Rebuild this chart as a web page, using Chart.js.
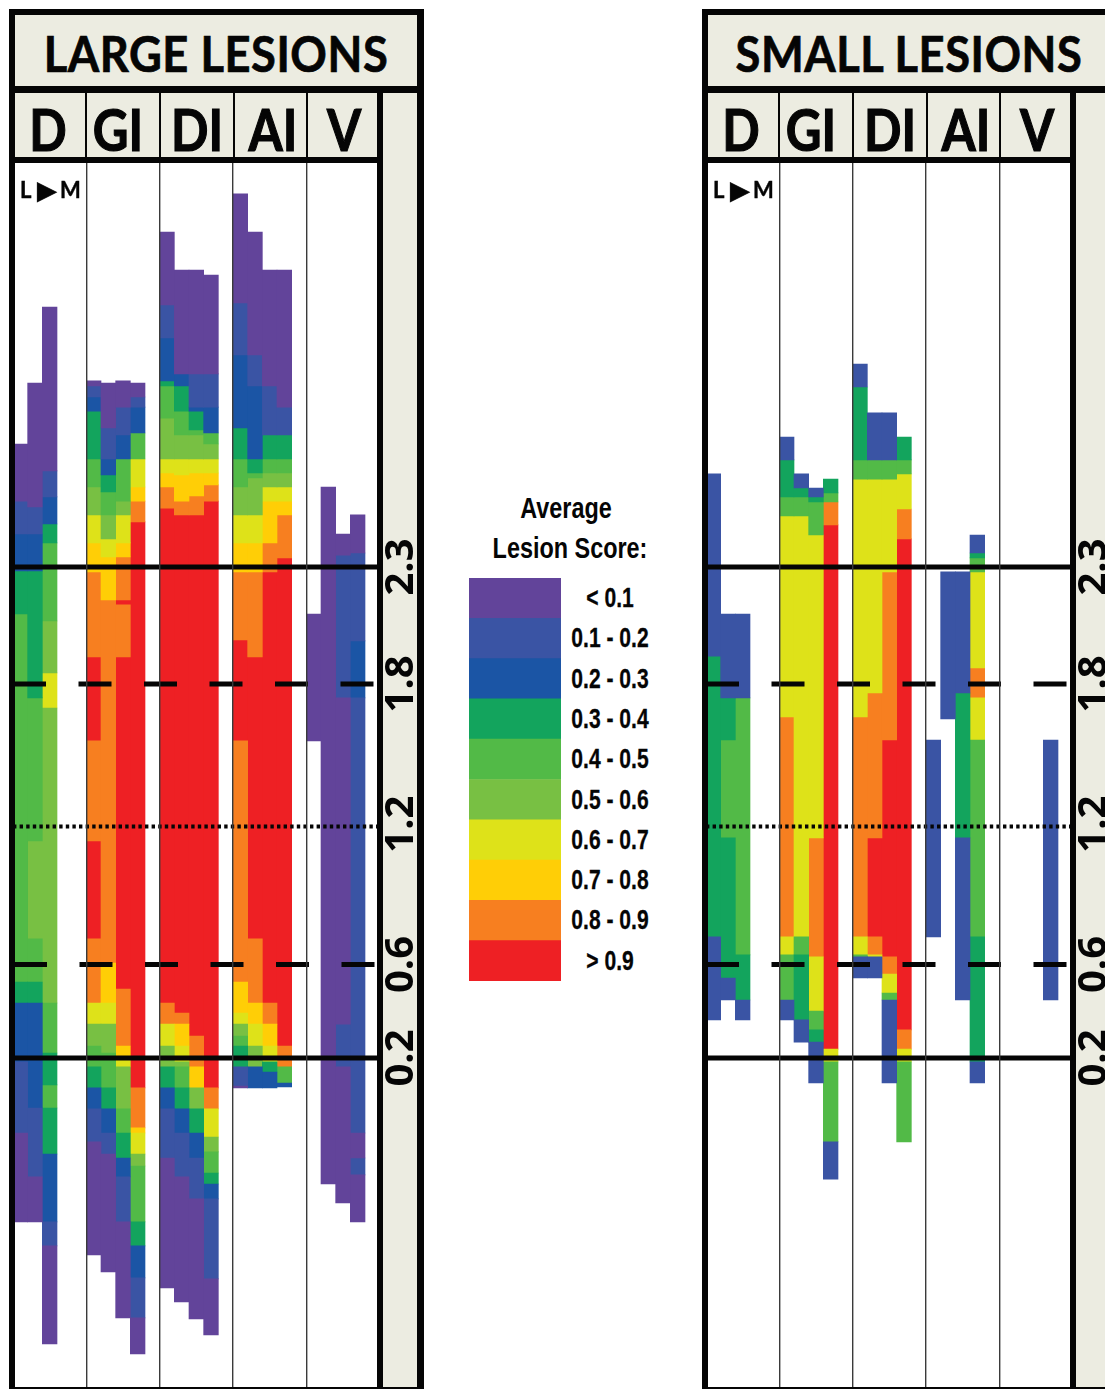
<!DOCTYPE html>
<html>
<head>
<meta charset="utf-8">
<title>Average lesion score by region</title>
<script src="https://cdn.jsdelivr.net/npm/chart.js@4/dist/chart.umd.min.js"></script>
<style>
  html, body { margin: 0; padding: 0; background: #fff; }
  #page { position: relative; width: 1105px; height: 1389px; overflow: hidden; font-family: Lato, sans-serif; color: #050505; }
  .panel { position: absolute; top: 0; width: 430px; height: 1389px; }
  .box { position: absolute; }
  .beige { background: #ecece1; }
  .black { background: #050505; }
  .frame { position: absolute; left: 9px; top: 9px; width: 402px; height: 1372px; border: solid #050505; border-width: 6px 7px 2px 6px; z-index: 5; }
  .chart-wrap { position: absolute; z-index: 2; }
  .title { position: absolute; left: 15px; width: 402px; top: 15px; height: 76px; line-height: 76px; text-align: center; font-size: 50px; font-weight: 700; letter-spacing: 0.6px; transform: scaleX(0.905); -webkit-text-stroke: 0.7px #050505; z-index: 3; }
  .region { position: absolute; top: 93px; height: 72px; line-height: 72px; width: 70px; text-align: center; font-size: 58px; font-weight: 700; transform: scaleX(0.85); -webkit-text-stroke: 1.2px #050505; z-index: 3; }
  .lm { position: absolute; font-weight: 700; font-size: 22px; line-height: 22px; top: 179px; -webkit-text-stroke: 0.4px #050505; z-index: 3; }
  .legend-title { position: absolute; width: 260px; text-align: center; font-family: "Liberation Sans", sans-serif; font-weight: 700; font-size: 30px; line-height: 34px; transform: scaleX(0.78); }
  .legend-label { position: absolute; left: 530px; width: 160px; height: 40.3px; line-height: 40.3px; text-align: center; font-family: "Liberation Sans", sans-serif; font-weight: 700; font-size: 27px; transform: scaleX(0.78); -webkit-text-stroke: 0.3px #050505; }
</style>
</head>
<body>
<div id="page"></div>
<script>
const levelColors = ['#62449a', '#3a54a4', '#1b55a5', '#13a45d', '#52ba47', '#78c043', '#dee219', '#ffce06', '#f77f20', '#ee2024'];
const legendLabels = ['< 0.1', '0.1 - 0.2', '0.2 - 0.3', '0.3 - 0.4', '0.4 - 0.5', '0.5 - 0.6', '0.6 - 0.7', '0.7 - 0.8', '0.8 - 0.9', '> 0.9'];
const regionLabels = ['D', 'GI', 'DI', 'AI', 'V'];
const tickValues = [2.3, 1.8, 1.2, 0.6, 0.2];

// five lateral-to-medial strips per region, the last one is always empty
const stripLabels = regionLabels.flatMap((r) => [1, 2, 3, 4, 5].map((n) => r + n));

// edges are mm from top to bottom, levels index levelColors (one less than edges)
const largeD1Edges = [2.826, 2.582, 2.441, 2.283, 2.099, 0.525, 0.435, 0.183, -0.121, -0.501];
const largeD1Levels = [0, 1, 2, 3, 4, 3, 2, 1, 0];
const largeD2Edges = [3.087, 2.557, 2.441, 2.283, 1.740, 1.128, 0.709, 0.525, 0.435, -0.014, -0.309, -0.501];
const largeD2Levels = [0, 1, 2, 3, 4, 5, 4, 3, 2, 1, 0];
const largeD3Edges = [3.412, 2.711, 2.600, 2.484, 2.403, 2.069, 1.847, 1.697, 0.435, 0.221, 0.085, -0.014, -0.211, -0.501, -0.604, -1.023];
const largeD3Levels = [0, 1, 2, 3, 4, 5, 6, 5, 4, 3, 4, 3, 2, 1, 0];

const largeGI1Edges = [3.096, 3.074, 3.027, 2.967, 2.762, 2.642, 2.523, 2.403, 2.279, 1.915, 1.556, 1.128, 0.709, 0.435, 0.345, 0.251, 0.162, 0.072, -0.018, -0.159, -0.643];
const largeGI1Levels = [0, 1, 2, 3, 4, 5, 6, 7, 8, 9, 8, 9, 8, 6, 5, 4, 3, 2, 1, 0];
const largeGI2Edges = [3.087, 2.895, 2.762, 2.694, 2.621, 2.523, 2.420, 2.343, 2.159, 0.606, 0.435, 0.345, 0.221, 0.072, -0.018, -0.121, -0.211, -0.715];
const largeGI2Levels = [0, 1, 2, 3, 4, 5, 6, 7, 8, 7, 6, 5, 4, 3, 2, 1, 0];
const largeGI3Edges = [3.096, 2.984, 2.865, 2.762, 2.582, 2.523, 2.403, 2.343, 2.159, 2.138, 1.915, 0.495, 0.251, 0.191, 0.162, -0.018, -0.121, -0.228, -0.309, -0.501, -0.912];
const largeGI3Levels = [0, 1, 2, 4, 5, 6, 7, 8, 9, 8, 9, 8, 7, 6, 5, 4, 3, 2, 1, 0];
const largeGI4Edges = [3.087, 3.027, 2.984, 2.873, 2.762, 2.642, 2.582, 2.493, 0.072, -0.099, -0.121, -0.211, -0.262, -0.501, -0.604, -0.741, -0.912, -1.066];
const largeGI4Levels = [0, 1, 2, 4, 6, 7, 8, 9, 8, 7, 6, 5, 4, 3, 2, 1, 0];

const largeDI1Edges = [3.733, 3.421, 3.280, 3.096, 3.074, 2.937, 2.762, 2.702, 2.642, 2.552, 0.435, 0.345, 0.251, 0.162, 0.072, -0.018, -0.228, -0.784];
const largeDI1Levels = [0, 1, 2, 3, 4, 5, 6, 7, 8, 9, 8, 6, 5, 3, 2, 1, 0];
const largeDI2Edges = [3.570, 3.126, 3.074, 2.967, 2.865, 2.762, 2.694, 2.582, 2.523, 0.392, 0.345, 0.251, 0.183, 0.162, 0.072, -0.018, -0.121, -0.309, -0.844];
const largeDI2Levels = [0, 2, 3, 4, 5, 6, 7, 8, 9, 8, 7, 6, 5, 4, 3, 2, 1, 0];
const largeDI3Edges = [3.570, 3.126, 2.984, 2.967, 2.886, 2.865, 2.762, 2.702, 2.604, 2.523, 0.294, 0.162, 0.072, -0.018, -0.121, -0.228, -0.403, -0.916];
const largeDI3Levels = [0, 1, 2, 3, 4, 5, 6, 7, 8, 9, 8, 7, 5, 3, 2, 1, 0];
const largeDI4Edges = [3.549, 3.126, 2.984, 2.873, 2.826, 2.762, 2.702, 2.651, 2.582, 0.072, -0.018, -0.138, -0.202, -0.292, -0.339, -0.403, -0.745, -0.985];
const largeDI4Levels = [0, 1, 2, 4, 5, 6, 7, 8, 9, 8, 6, 5, 4, 3, 2, 1, 0];

const largeAI1Edges = [3.896, 3.429, 3.207, 2.895, 2.762, 2.642, 2.523, 2.403, 2.279, 1.988, 1.556, 0.525, 0.392, 0.345, 0.294, 0.251, 0.162, 0.080, 0.072];
const largeAI1Levels = [0, 1, 2, 3, 4, 5, 6, 7, 8, 9, 8, 7, 6, 5, 4, 3, 1, 0];
const largeAI2Edges = [3.733, 3.207, 3.074, 2.762, 2.702, 2.681, 2.523, 2.403, 2.279, 1.915, 0.709, 0.435, 0.345, 0.251, 0.162, 0.072];
const largeAI2Levels = [0, 1, 2, 3, 4, 5, 6, 7, 8, 9, 8, 7, 6, 5, 2];
const largeAI3Edges = [3.570, 3.074, 2.865, 2.762, 2.702, 2.642, 2.582, 2.403, 2.279, 0.435, 0.345, 0.251, 0.183, 0.140, 0.072];
const largeAI3Levels = [0, 1, 3, 4, 5, 6, 7, 8, 9, 8, 7, 6, 3, 2];
const largeAI4Edges = [3.570, 2.984, 2.865, 2.762, 2.702, 2.642, 2.582, 2.523, 2.339, 0.251, 0.162, 0.093, 0.076];
const largeAI4Levels = [0, 1, 3, 4, 5, 6, 7, 8, 9, 8, 4, 2];

const largeV1Edges = [2.099, 1.556];
const largeV1Levels = [0];
const largeV2Edges = [2.642, -0.339];
const largeV2Levels = [0];
const largeV3Edges = [2.441, 2.351, 1.740, 0.345, 0.162, -0.420];
const largeV3Levels = [0, 1, 0, 1, 0];
const largeV4Edges = [2.523, 2.360, 1.984, 1.740, -0.121, -0.228, -0.300, -0.501];
const largeV4Levels = [0, 1, 2, 1, 0, 1, 0];

const smallD1Edges = [2.698, 1.919, 0.718, 0.363];
const smallD1Levels = [1, 3, 1];
const smallD2Edges = [2.099, 1.740, 1.560, 1.141, 0.542, 0.448];
const smallD2Levels = [1, 3, 4, 3, 1];
const smallD3Edges = [2.099, 1.740, 0.641, 0.448, 0.363];
const smallD3Levels = [1, 4, 3, 1];

const smallGI1Edges = [2.856, 2.758, 2.600, 2.518, 1.659, 0.718, 0.641, 0.448, 0.363];
const smallGI1Levels = [1, 3, 4, 6, 8, 6, 4, 1];
const smallGI2Edges = [2.698, 2.638, 2.600, 2.518, 0.718, 0.641, 0.363, 0.268];
const smallGI2Levels = [1, 3, 4, 6, 4, 3, 1];
const smallGI3Edges = [2.638, 2.600, 2.578, 2.437, 1.141, 0.632, 0.401, 0.320, 0.268, 0.093];
const smallGI3Levels = [1, 3, 4, 6, 8, 6, 4, 3, 1];
const smallGI4Edges = [2.676, 2.617, 2.578, 2.480, 0.238, 0.183, -0.159, -0.318];
const smallGI4Levels = [3, 4, 8, 9, 6, 4, 1];

const smallDI1Edges = [3.168, 3.070, 2.758, 2.676, 1.659, 0.718, 0.641, 0.632, 0.542];
const smallDI1Levels = [1, 3, 4, 6, 8, 6, 4, 1];
const smallDI2Edges = [2.959, 2.758, 2.676, 1.761, 1.141, 0.718, 0.641, 0.632, 0.542];
const smallDI2Levels = [1, 4, 6, 8, 9, 8, 6, 1];
const smallDI3Edges = [2.959, 2.758, 2.676, 2.279, 1.560, 0.632, 0.559, 0.478, 0.448, 0.093];
const smallDI3Levels = [1, 4, 6, 8, 9, 8, 6, 4, 1];
const smallDI4Edges = [2.856, 2.758, 2.698, 2.548, 2.420, 0.320, 0.238, 0.183, -0.159];
const smallDI4Levels = [3, 4, 6, 8, 9, 8, 6, 4];

const smallAI1Edges = [1.560, 0.718];
const smallAI1Levels = [1];
const smallAI2Edges = [2.279, 1.650];
const smallAI2Levels = [1];
const smallAI3Edges = [2.279, 1.761, 1.141, 0.448];
const smallAI3Levels = [1, 3, 1];
const smallAI4Edges = [2.437, 2.360, 2.339, 2.279, 1.868, 1.740, 1.560, 0.718, 0.183, 0.093];
const smallAI4Levels = [1, 3, 4, 6, 8, 6, 4, 3, 1];

const smallV4Edges = [1.560, 0.448];
const smallV4Levels = [1];

const largeStrips = [
  ['D1', largeD1Edges, largeD1Levels], ['D2', largeD2Edges, largeD2Levels], ['D3', largeD3Edges, largeD3Levels],
  ['GI1', largeGI1Edges, largeGI1Levels], ['GI2', largeGI2Edges, largeGI2Levels], ['GI3', largeGI3Edges, largeGI3Levels], ['GI4', largeGI4Edges, largeGI4Levels],
  ['DI1', largeDI1Edges, largeDI1Levels], ['DI2', largeDI2Edges, largeDI2Levels], ['DI3', largeDI3Edges, largeDI3Levels], ['DI4', largeDI4Edges, largeDI4Levels],
  ['AI1', largeAI1Edges, largeAI1Levels], ['AI2', largeAI2Edges, largeAI2Levels], ['AI3', largeAI3Edges, largeAI3Levels], ['AI4', largeAI4Edges, largeAI4Levels],
  ['V1', largeV1Edges, largeV1Levels], ['V2', largeV2Edges, largeV2Levels], ['V3', largeV3Edges, largeV3Levels], ['V4', largeV4Edges, largeV4Levels],
];
const smallStrips = [
  ['D1', smallD1Edges, smallD1Levels], ['D2', smallD2Edges, smallD2Levels], ['D3', smallD3Edges, smallD3Levels],
  ['GI1', smallGI1Edges, smallGI1Levels], ['GI2', smallGI2Edges, smallGI2Levels], ['GI3', smallGI3Edges, smallGI3Levels], ['GI4', smallGI4Edges, smallGI4Levels],
  ['DI1', smallDI1Edges, smallDI1Levels], ['DI2', smallDI2Edges, smallDI2Levels], ['DI3', smallDI3Edges, smallDI3Levels], ['DI4', smallDI4Edges, smallDI4Levels],
  ['AI1', smallAI1Edges, smallAI1Levels], ['AI2', smallAI2Edges, smallAI2Levels], ['AI3', smallAI3Edges, smallAI3Levels], ['AI4', smallAI4Edges, smallAI4Levels],
  ['V4', smallV4Edges, smallV4Levels],
];

// position of each reference line, the dotted one is drawn a hair under 1.2
const guideValues = [2.3, 1.8, 1.19, 0.6, 0.2];
const guideDashes = [[], [33, 32.5], [3.4, 3.2], [33, 32.5], []];

const page = document.getElementById('page');

function addBox(parent, className, left, top, width, height) {
  const el = document.createElement('div');
  el.className = className;
  el.style.cssText = `left:${left}px;top:${top}px;width:${width}px;height:${height}px;`;
  parent.appendChild(el);
  return el;
}

function addText(parent, className, text, css) {
  const el = document.createElement('div');
  el.className = className;
  el.textContent = text;
  if (css) el.style.cssText = css;
  parent.appendChild(el);
  return el;
}

function buildBarDatasets(strips) {
  return levelColors.map((color, level) => {
    const data = [];
    strips.forEach(([strip, edges, levels]) => {
      levels.forEach((value, i) => {
        if (value === level) data.push({ x: strip, y: [edges[i + 1], edges[i]] });
      });
    });
    return {
      label: legendLabels[level],
      data,
      backgroundColor: color,
      grouped: false,
      barPercentage: 1,
      categoryPercentage: 1,
      order: 2,
    };
  });
}

function buildGuideDatasets(dashShift) {
  return guideValues.map((value, i) => ({
    type: 'line',
    label: 'guide ' + value,
    xAxisID: 'xGuide',
    data: [{ x: 0, y: value }, { x: 25, y: value }],
    borderColor: '#050505',
    borderWidth: i === 2 ? 4.2 : 5,
    borderDash: guideDashes[i],
    borderDashOffset: i === 3 ? dashShift : 0,
    pointRadius: 0,
    order: 1,
  }));
}

function drawPanel(offset, title, strips, dashShift) {
  const panel = document.createElement('div');
  panel.className = 'panel';
  panel.style.left = offset + 'px';
  page.appendChild(panel);

  addBox(panel, 'box beige', 15, 15, 402, 71);
  addBox(panel, 'box black', 15, 85.5, 402, 8);
  addBox(panel, 'box beige', 15, 93, 362, 64);
  addBox(panel, 'box black', 15, 157, 362, 6);
  addBox(panel, 'box black', 377, 93, 6, 1296);
  addBox(panel, 'box beige', 383, 93, 34, 1296);
  [86, 160, 234, 307].forEach((x) => addBox(panel, 'box black', x - 1, 93, 2, 64));
  addBox(panel, 'frame', 9, 9, 402, 1372);

  addText(panel, 'title', title);
  const regionCenters = [48, 117.5, 196.5, 273, 344];
  regionLabels.forEach((label, i) => {
    addText(panel, 'region', label, `left:${regionCenters[i] - 35}px;`);
  });
  addText(panel, 'lm', 'L', 'left:20px;');
  addText(panel, 'lm', '▶', 'left:37px;top:177px;font-family:"DejaVu Sans";font-size:26px;line-height:26px;');
  addText(panel, 'lm', 'M', 'left:60px;');

  const wrap = addBox(panel, 'chart-wrap', 13, 163, 404, 1226);
  const canvas = document.createElement('canvas');
  wrap.appendChild(canvas);

  new Chart(canvas, {
    type: 'bar',
    data: {
      labels: stripLabels,
      datasets: [...buildBarDatasets(strips), ...buildGuideDatasets(dashShift)],
    },
    options: {
      responsive: true,
      maintainAspectRatio: false,
      animation: false,
      layout: { padding: 0 },
      plugins: { legend: { display: false }, tooltip: { enabled: false } },
      scales: {
        x: {
          type: 'category',
          ticks: { display: false },
          border: { display: false },
          afterFit: (scale) => { scale.height = 0; scale.paddingLeft = 0; scale.paddingRight = 0; },
          grid: {
            offset: true,
            z: 1,
            drawTicks: false,
            lineWidth: 1.4,
            color: (ctx) => (ctx.index % 5 === 0 ? '#3a3a3a' : 'rgba(0,0,0,0)'),
          },
        },
        xGuide: { type: 'linear', display: false, offset: false, min: 0, max: 25 },
        y: {
          type: 'linear',
          position: 'right',
          min: -1.216,
          max: 4.028,
          grid: { display: false, drawTicks: false },
          border: { display: false },
          afterBuildTicks: (scale) => { scale.ticks = tickValues.map((value) => ({ value })); },
          afterFit: (scale) => { scale.width = 37.33; scale.paddingTop = 0; scale.paddingBottom = 0; },
          ticks: {
            autoSkip: false,
            minRotation: 90,
            maxRotation: 90,
            crossAlign: 'center',
            padding: -7,
            color: '#050505',
            font: { family: 'Open Sans', weight: 'bold', size: 40 },
            callback: (value) => Number(value).toFixed(1),
          },
        },
      },
    },
  });
}

function drawLegend() {
  addText(page, 'legend-title', 'Average', 'left:436px;top:491px;');
  addText(page, 'legend-title', 'Lesion Score:', 'left:440px;top:531px;');

  const wrap = addBox(page, 'chart-wrap', 469, 578, 92, 403);
  const canvas = document.createElement('canvas');
  wrap.appendChild(canvas);
  new Chart(canvas, {
    type: 'bar',
    data: {
      labels: legendLabels,
      datasets: [{
        label: 'Average Lesion Score',
        data: legendLabels.map(() => 1),
        backgroundColor: levelColors,
        barPercentage: 1,
        categoryPercentage: 1,
      }],
    },
    options: {
      indexAxis: 'y',
      responsive: true,
      maintainAspectRatio: false,
      animation: false,
      plugins: { legend: { display: false }, tooltip: { enabled: false } },
      scales: {
        x: { display: false, min: 0, max: 1 },
        y: { display: false },
      },
    },
  });

  legendLabels.forEach((label, i) => {
    addText(page, 'legend-label', label, `top:${578 + i * 40.3}px;`);
  });
}

drawPanel(0, 'LARGE LESIONS', largeStrips, -1);
drawPanel(693, 'SMALL LESIONS', smallStrips, 0);
drawLegend();
</script>
</body>
</html>
